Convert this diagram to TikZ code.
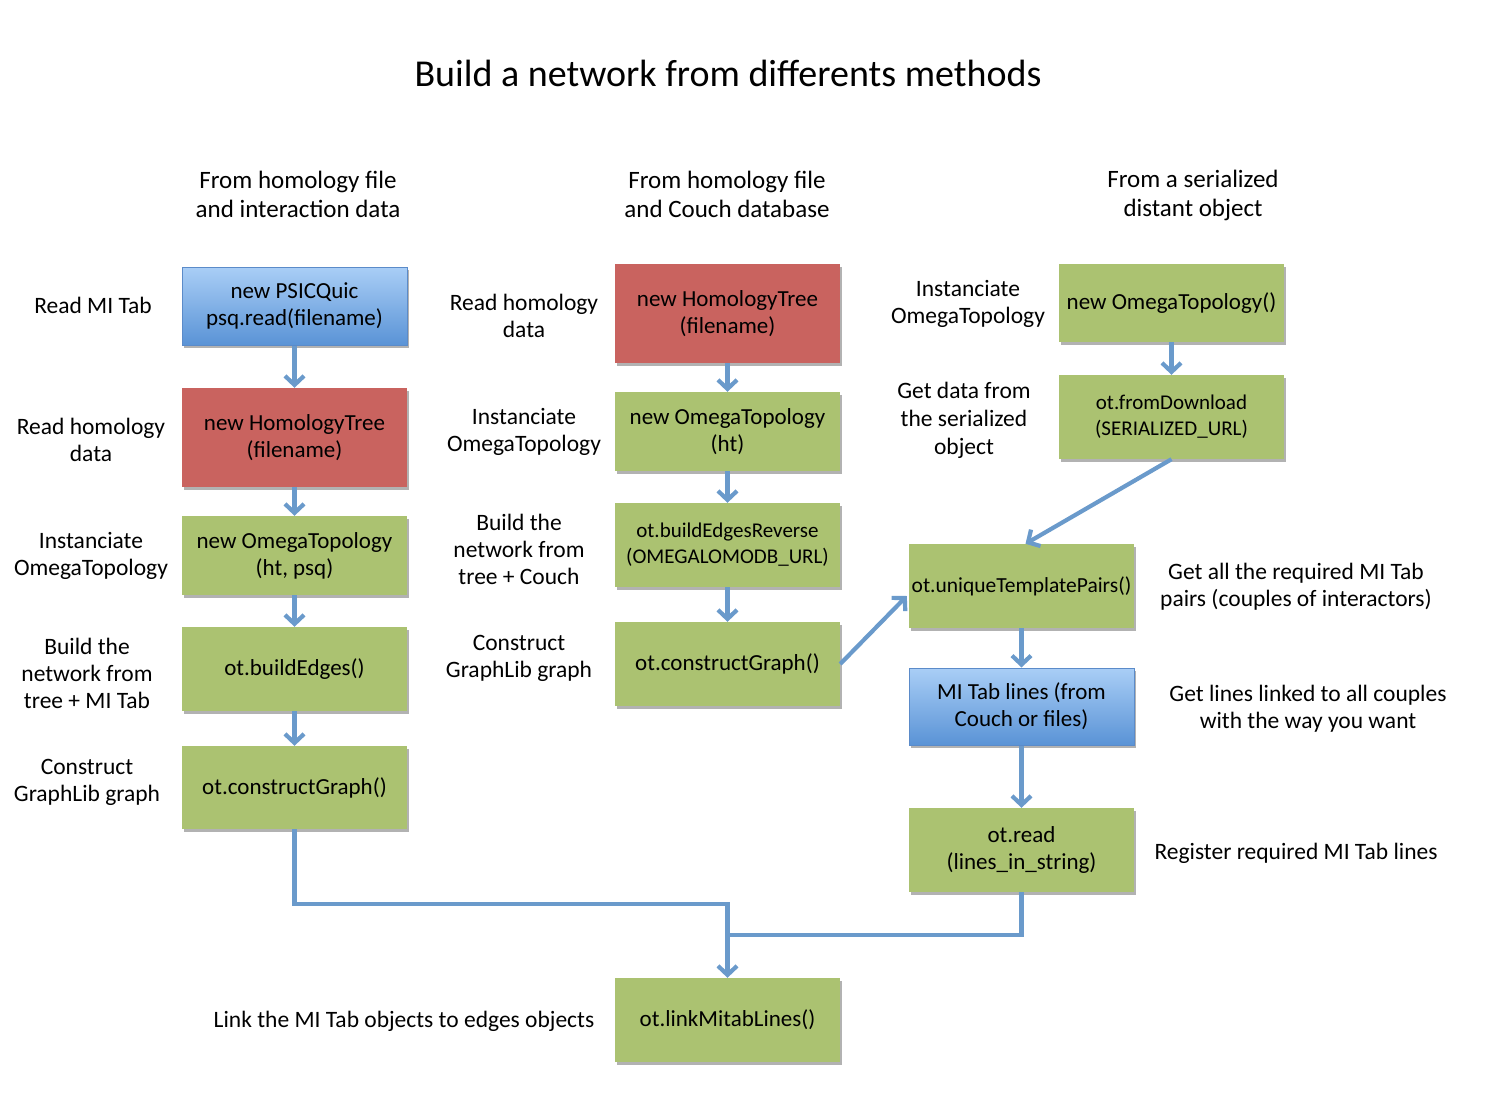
\documentclass[tikz,border=0pt]{standalone}
\usepackage{fontspec}
\setmainfont{Carlito}
\usetikzlibrary{arrows.meta,shadows,calc}
\definecolor{gfill}{HTML}{ABC271}
\definecolor{rfill}{HTML}{C9635F}
\definecolor{btop}{HTML}{A9CEF6}
\definecolor{bbot}{HTML}{5A93D6}
\definecolor{bline}{HTML}{5B8BC9}
\definecolor{arrc}{HTML}{6A9ACB}
\tikzset{
  box/.style={minimum width=225pt, align=center, inner sep=1pt,
    font=\fontsize{23}{27}\selectfont,
    drop shadow={shadow xshift=2pt, shadow yshift=-3pt, opacity=0.3, fill=black}},
  gbox/.style={box, fill=gfill},
  rbox/.style={box, fill=rfill},
  bbox/.style={box, top color=btop, bottom color=bbot, draw=bline, line width=1pt},
  small/.style={font=\fontsize{21}{26}\selectfont},
  lbl/.style={align=center, font=\fontsize{23.5}{27}\selectfont},
  hdr/.style={align=center, font=\fontsize{25}{29}\selectfont},
  conn/.style={draw=arrc, line width=4.2pt},
  arr/.style={conn, -{Straight Barb[length=9pt, width=19pt, line width=4.2pt]}}
}
\begin{document}
\begin{tikzpicture}[x=1pt, y=-1pt]
\useasboundingbox (0,0) rectangle (1487,1097);
% title
\node[font=\fontsize{38}{44}\selectfont] (title) at (728,73) {Build a network from differents methods};
% column headers
\node[hdr] (h1) at (298,194) {From homology file\\and interaction data};
\node[hdr] (h2) at (727,194) {From homology file\\and Couch database};
\node[hdr] (h3) at (1193,195) {From a serialized\\distant object};
% left column
\node[bbox, minimum height=78pt] (psq) at (294.5,306) {new PSICQuic\\psq.read(filename)};
\node[rbox, minimum height=99pt] (lht) at (294.5,437.5) {new HomologyTree\\(filename)};
\node[gbox, minimum height=79pt] (lot) at (294.5,555.5) {new OmegaTopology\\(ht, psq)};
\node[gbox, minimum height=84pt] (lbe) at (294.5,669) {ot.buildEdges()};
\node[gbox, minimum height=83pt] (lcg) at (294.5,787.5) {ot.constructGraph()};
% middle column
\node[rbox, minimum height=99pt] (mht) at (727.5,313.5) {new HomologyTree\\(filename)};
\node[gbox, minimum height=79pt] (mot) at (727.5,431.5) {new OmegaTopology\\(ht)};
\node[gbox, small, minimum height=84pt] (mbe) at (727.5,545) {ot.buildEdgesReverse\\(OMEGALOMODB\_URL)};
\node[gbox, minimum height=84pt] (mcg) at (727.5,664) {ot.constructGraph()};
\node[gbox, minimum height=84pt] (link) at (727.5,1020) {ot.linkMitabLines()};
% right column
\node[gbox, minimum height=78pt] (rot) at (1171.5,303) {new OmegaTopology()};
\node[gbox, small, minimum height=84pt] (rfd) at (1171.5,417) {ot.fromDownload\\(SERIALIZED\_URL)};
\node[gbox, font=\fontsize{21.5}{26}\selectfont, minimum height=84pt] (utp) at (1021.5,586) {ot.uniqueTemplatePairs()};
\node[bbox, minimum height=77pt] (mil) at (1021.5,706.5) {MI Tab lines (from\\Couch or files)};
\node[gbox, minimum height=84pt] (ord) at (1021.5,850) {ot.read\\(lines\_in\_string)};
% left labels
\node[lbl] (l1) at (93,305) {Read MI Tab};
\node[lbl] (l2) at (91,440) {Read homology\\data};
\node[lbl] (l3) at (91,556) {Instanciate\\OmegaTopology};
\node[lbl] (l4) at (87,673) {Build the\\network from\\tree + MI Tab};
\node[lbl] (l5) at (87,782) {Construct\\GraphLib graph};
% middle labels
\node[lbl] (m1) at (524,316) {Read homology\\data};
\node[lbl] (m2) at (524,432) {Instanciate\\OmegaTopology};
\node[lbl] (m3) at (519,549) {Build the\\network from\\tree + Couch};
\node[lbl] (m4) at (519,658) {Construct\\GraphLib graph};
\node[lbl] (bl) at (404,1021) {Link the MI Tab objects to edges objects};
% right labels
\node[lbl] (r1) at (968,304) {Instanciate\\OmegaTopology};
\node[lbl, font=\fontsize{23.5}{28}\selectfont] (r2) at (964,420) {Get data from\\the serialized\\object};
\node[lbl] (r3) at (1296,587) {Get all the required MI Tab\\pairs (couples of interactors)};
\node[lbl] (r4) at (1308,709) {Get lines linked to all couples\\with the way you want};
\node[lbl] (r5) at (1296,853) {Register required MI Tab lines};
% connectors
\draw[arr] (psq.south) -- (lht.north);
\draw[arr] (lht.south) -- (lot.north);
\draw[arr] (lot.south) -- (lbe.north);
\draw[arr] (lbe.south) -- (lcg.north);
\draw[arr] (mht.south) -- (mot.north);
\draw[arr] (mot.south) -- (mbe.north);
\draw[arr] (mbe.south) -- (mcg.north);
\draw[arr] (rot.south) -- (rfd.north);
\draw[arr] (rfd.south) -- ($(utp.north)+(4,0)$);
\draw[arr] (mcg.east) -- ($(utp.west)+(-2,10)$);
\draw[arr] (utp.south) -- (mil.north);
\draw[arr] (mil.south) -- (ord.north);
\coordinate (j1) at (727.5,904);
\coordinate (j2) at (727.5,935);
\draw[conn] (ord.south) |- (j2);
\draw[arr, line join=miter] (lcg.south) |- (j1) -- (link.north);
\end{tikzpicture}
\end{document}
